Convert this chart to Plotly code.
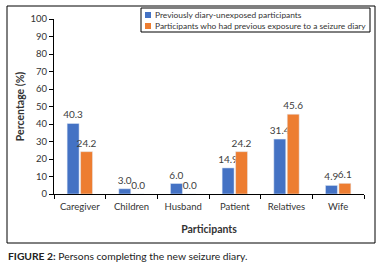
import plotly.graph_objects as go

categories = ["Caregiver", "Children", "Husband", "Patient", "Relatives", "Wife"]
unexposed = [40.3, 3.0, 6.0, 14.9, 31.4, 4.9]
exposed = [24.2, 0.0, 0.0, 24.2, 45.6, 6.1]
series_names = ["Previously diary-unexposed participants",
                "Participants who had previous exposure to a seizure diary"]
y_ticks = [0, 10, 20, 30, 40, 50, 60, 70, 80, 90, 100]

FONT = "Lato, Open Sans, sans-serif"
BLUE = "#4472C4"
ORANGE = "#ED7D31"
COLORS = [BLUE, ORANGE]

# plot area in pixels: x 54..364, y 19..194
PL, PR, PT, PB = 54, 364, 19, 194
W, H = PR - PL, PB - PT


def px(x):
    return (x - PL) / W


def py(y):
    return (PB - y) / H


fig = go.Figure()
for name, vals, col in zip(series_names, [unexposed, exposed], COLORS):
    fig.add_trace(go.Bar(
        x=categories, y=vals, name=name, marker_color=col,
        text=[f"{v:.1f}" for v in vals], textposition="outside",
        constraintext="none",
        textfont=dict(size=10, color="#404040", family=FONT),
        cliponaxis=False, showlegend=False, hoverinfo="skip",
    ))

fig.update_layout(
    width=383, height=267,
    margin=dict(l=PL, r=383 - PR, t=PT, b=267 - PB, autoexpand=False),
    paper_bgcolor="white", plot_bgcolor="white",
    barmode="group", bargap=0.48, bargroupgap=0.11,
    font=dict(family=FONT, color="#333333"),
    showlegend=False,
    xaxis=dict(showline=True, linecolor="black", linewidth=1,
               ticks="outside", tickson="boundaries", ticklen=4, tickcolor="black",
               ticklabelstandoff=4,
               tickfont=dict(size=9.5, color="#333333", family=FONT),
               title=dict(text="<b>Participants</b>", font=dict(size=10.5, color="#333333", family=FONT), standoff=14)),
    yaxis=dict(range=[0, 100], tickvals=y_ticks, showgrid=False, zeroline=False,
               showline=True, linecolor="black", linewidth=1,
               ticks="outside", ticklen=4, tickcolor="black",
               tickfont=dict(size=9.5, color="#333333", family=FONT),
               title=dict(text="<b>Percentage (%)</b>", font=dict(size=10.5, color="#333333", family=FONT), standoff=3)),
)

# outer frame
fig.add_shape(type="rect", xref="paper", yref="paper",
              x0=px(7), x1=px(375), y0=py(243), y1=py(6),
              line=dict(color="black", width=1), fillcolor="rgba(0,0,0,0)", layer="below")

# legend box
fig.add_shape(type="rect", xref="paper", yref="paper",
              x0=px(141), x1=px(370), y0=py(32), y1=py(8),
              line=dict(color="black", width=1), fillcolor="white")
for i, (name, col) in enumerate(zip(series_names, COLORS)):
    cy = 15 + i * 11
    fig.add_shape(type="rect", xref="paper", yref="paper",
                  x0=px(145), x1=px(151), y0=py(cy + 3), y1=py(cy - 3),
                  line=dict(width=0), fillcolor=col)
    fig.add_annotation(xref="paper", yref="paper", x=px(153), y=py(cy),
                       xanchor="left", yanchor="middle", showarrow=False,
                       text=name, font=dict(size=8.4, color="#333333", family=FONT))

fig.add_annotation(xref="paper", yref="paper", x=px(6), y=py(256), xanchor="left", yanchor="middle",
                   showarrow=False,
                   text="<b>FIGURE 2:</b> Persons completing the new seizure diary.",
                   font=dict(size=10.3, color="#222222", family=FONT))

fig.write_html("out.html", config={"displayModeBar": False},
               post_script="document.body.style.margin='0';document.body.style.overflow='hidden';")
